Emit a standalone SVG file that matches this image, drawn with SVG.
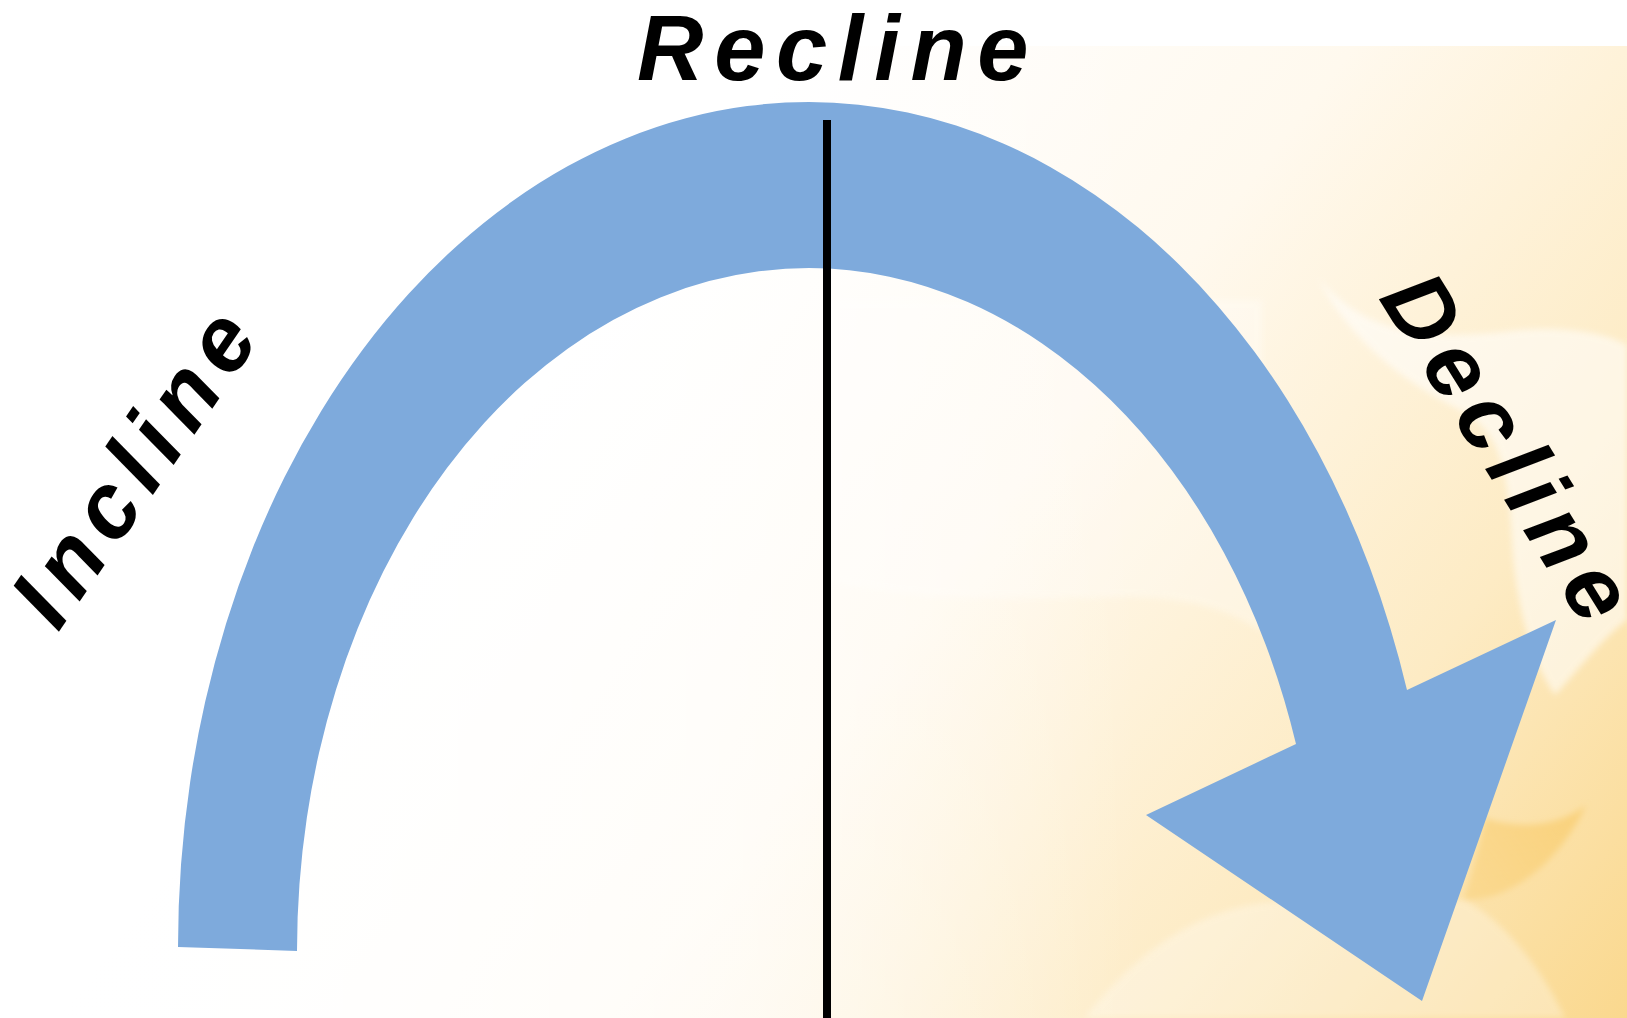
<svg xmlns="http://www.w3.org/2000/svg" width="1627" height="1018" viewBox="0 0 1627 1018">
  <defs>
    <linearGradient id="bgGrad" gradientUnits="userSpaceOnUse" x1="640" y1="260" x2="1627" y2="1018">
      <stop offset="0" stop-color="#FFFFFF"/>
      <stop offset="0.35" stop-color="#FFF9EE"/>
      <stop offset="0.7" stop-color="#FDEBC4"/>
      <stop offset="1" stop-color="#FAD88E"/>
    </linearGradient>
    <linearGradient id="fadeLeft" gradientUnits="userSpaceOnUse" x1="0" y1="0" x2="1627" y2="0">
      <stop offset="0" stop-color="#FFFFFF" stop-opacity="1"/>
      <stop offset="0.45" stop-color="#FFFFFF" stop-opacity="0.6"/>
      <stop offset="0.7" stop-color="#FFFFFF" stop-opacity="0"/>
    </linearGradient>
    <linearGradient id="crescent" gradientUnits="userSpaceOnUse" x1="1460" y1="900" x2="1585" y2="805">
      <stop offset="0" stop-color="#F9D078" stop-opacity="0.5"/>
      <stop offset="1" stop-color="#F9D078" stop-opacity="0.9"/>
    </linearGradient>
    <filter id="soft" x="-10%" y="-10%" width="120%" height="120%">
      <feGaussianBlur stdDeviation="3"/>
    </filter>
    <style>
      .lbl { font-family: "Liberation Sans", Arial, sans-serif; font-size: 92px; font-weight: bold; font-style: italic; letter-spacing: 10.5px; fill: #000000; }
      .arrow { fill: #7EAADC; stroke: none; }
      .axis { stroke: #000000; stroke-width: 8; fill: none; }
    </style>
  </defs>

  <rect x="0" y="0" width="1627" height="1018" fill="#FFFFFF"/>
  <g id="background">
    <rect x="0" y="46" width="1627" height="972" fill="url(#bgGrad)"/>
    <path d="M1318,278 C1370,340 1440,340 1520,330 C1570,326 1610,335 1627,345 L1627,620 C1600,640 1570,680 1555,695 C1530,660 1515,600 1512,540 C1508,470 1500,430 1460,410 C1400,380 1350,340 1318,278 Z" fill="#FFFFFF" opacity="0.55" filter="url(#soft)"/>
    <path d="M1463,900 C1510,902 1560,862 1586,805 C1560,826 1520,830 1485,818 C1478,850 1470,880 1463,900 Z" fill="url(#crescent)" filter="url(#soft)"/>
    <path d="M1085,1018 C1130,960 1190,910 1270,902 C1350,895 1420,900 1465,900 C1510,925 1545,975 1565,1018 Z" fill="#FFFFFF" opacity="0.3" filter="url(#soft)"/>
    <path d="M830,580 C900,600 1000,600 1130,597 C1190,598 1230,610 1262,632 L1262,300 L830,300 Z" fill="#FFFFFF" opacity="0.3" filter="url(#soft)"/>
    <rect x="0" y="46" width="1627" height="972" fill="url(#fadeLeft)"/>
  </g>

  <g id="connectors">
    <path id="curved-arrow" class="arrow" d="M178,947 A631,845 0 0 1 809,102 A628,845 0 0 1 1407,690 L1556,620 L1422,1001 L1146,815 L1296,744 A512,683 0 0 0 809,268 A512,683 0 0 0 297,951 Z"/>
    <line id="axis-line" class="axis" x1="827" y1="120" x2="827" y2="1018"/>
  </g>

  <g id="node-recline">
    <text class="lbl" x="637" y="80" style="letter-spacing:10.7px">Recline</text>
  </g>
  <g id="node-incline">
    <text class="lbl" transform="translate(58,633) rotate(-55.5)" style="letter-spacing:11px">Incline</text>
  </g>
  <g id="node-decline">
    <text class="lbl" transform="translate(1378,298) rotate(58)">Decline</text>
  </g>
</svg>
